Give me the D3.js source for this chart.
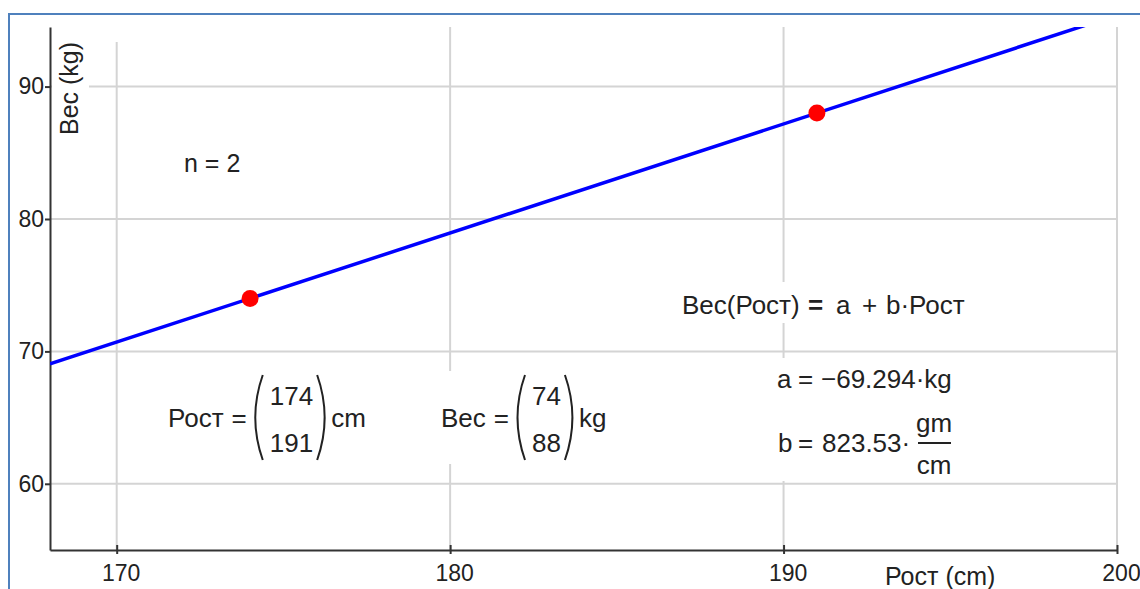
<!DOCTYPE html>
<html>
<head>
<meta charset="utf-8">
<script src="https://d3js.org/d3.v7.min.js"></script>
<style>
  body { margin: 0; background: #fff; }
  svg text { font-family: "Liberation Sans", Arial, sans-serif; fill: #222; }
</style>
</head>
<body>
<script>
'use strict';

// data (Рост in cm, Вес in kg)
let heights = [174, 191];
let weights = [74, 88];
let xTicks = [170, 180, 190, 200];
let yTicks = [60, 70, 80, 90];
let xDomain = [168, 200];
let yDomain = [55, 94.5];

// fitted line Вес(Рост) = a + b·Рост
let fitA = -69.294;     // kg
let fitB = 0.82353;     // kg per cm
let aLabel = '\u221269.294';
let bLabel = '823.53';

let svgContainer = '';
let fontSize = 26;
let plot = {
    left: 50,
    right: 1117,
    top: 27,
    bottom: 550
}

window.onload = function() {

    svgContainer = d3.select('body')
        .append('svg')
        .attr('width', 1140)
        .attr('height', 589);

    makeGraph();
}

function makeGraph() {

    // outer blue frame
    svgContainer.append('rect')
        .attr('x', 9)
        .attr('y', 14)
        .attr('width', 1300)
        .attr('height', 700)
        .attr('fill', 'none')
        .attr('stroke', '#4f81bd')
        .attr('stroke-width', 2);

    let xScale = d3.scaleLinear()
        .domain(xDomain)
        .range([plot.left, plot.right]);

    let yScale = d3.scaleLinear()
        .domain(yDomain)
        .range([plot.bottom, plot.top]);

    drawGrid(xScale, yScale);
    makeNotes();
    makeLabels(svgContainer);
    drawAxes(xScale, yScale);
    plotData(xScale, yScale);
}

function drawGrid(xScale, yScale) {

    let grid = svgContainer.append('g')
        .attr('stroke', '#d4d4d4')
        .attr('stroke-width', 2);

    grid.selectAll('.vgrid')
        .data(xTicks)
        .enter()
        .append('line')
            .attr('x1', (d) => xScale(d))
            .attr('x2', (d) => xScale(d))
            .attr('y1', plot.top)
            .attr('y2', plot.bottom);

    grid.selectAll('.hgrid')
        .data(yTicks)
        .enter()
        .append('line')
            .attr('x1', plot.left)
            .attr('x2', plot.right)
            .attr('y1', (d) => yScale(d))
            .attr('y2', (d) => yScale(d));
}

function drawAxes(xScale, yScale) {

    let yAxis = d3.axisLeft(yScale)
        .tickValues(yTicks)
        .tickSize(5)
        .tickSizeOuter(0)
        .tickPadding(1);

    let gy = svgContainer.append('g')
        .attr('transform', 'translate(' + plot.left + ', 0)')
        .call(yAxis);

    let xAxis = d3.axisBottom(xScale)
        .tickValues(xTicks)
        .tickSizeOuter(0);

    let gx = svgContainer.append('g')
        .attr('transform', 'translate(0, ' + plot.bottom + ')')
        .call(xAxis);

    gx.selectAll('.tick line')
        .attr('y1', -5)
        .attr('y2', 4);
    gx.selectAll('.tick text')
        .attr('y', 31)
        .attr('dy', 0)
        .attr('dx', 4);

    [gx, gy].forEach((g) => {
        g.attr('font-family', null).attr('font-size', null);
        g.selectAll('path, line')
            .attr('stroke', '#333')
            .attr('stroke-width', 2);
        g.selectAll('text')
            .style('font-size', '23px')
            .attr('fill', '#222');
    });
}

function plotData(xScale, yScale) {

    svgContainer.append('clipPath')
        .attr('id', 'plotClip')
        .append('rect')
            .attr('x', plot.left)
            .attr('y', plot.top)
            .attr('width', plot.right - plot.left)
            .attr('height', plot.bottom - plot.top);

    let fit = d3.line()
        .x((d) => xScale(d))
        .y((d) => yScale(fitA + fitB * d));

    svgContainer.append('path')
        .datum(xDomain)
        .attr('clip-path', 'url(#plotClip)')
        .attr('d', fit)
        .attr('fill', 'none')
        .attr('stroke', '#0000ff')
        .attr('stroke-width', 3.5);

    svgContainer.selectAll('.dot')
        .data(heights)
        .enter()
        .append('circle')
            .attr('class', 'dot')
            .attr('cx', (d) => xScale(d))
            .attr('cy', (d, i) => yScale(weights[i]))
            .attr('r', 8.5)
            .attr('fill', '#ff0000');
}

// text region with a white box behind it, like a worksheet region
function region(padX, padTop, padBottom) {
    let g = svgContainer.append('g');
    g.pad = [padX, padTop, padBottom];
    return g;
}

function finishRegion(g) {
    let box = g.node().getBBox();
    g.insert('rect', ':first-child')
        .attr('x', box.x - g.pad[0])
        .attr('y', box.y - g.pad[1])
        .attr('width', box.width + 2 * g.pad[0])
        .attr('height', box.height + g.pad[1] + g.pad[2])
        .attr('fill', '#fff');
}

function addText(g, x, y, str, bold) {
    let t = g.append('text')
        .attr('x', x)
        .attr('y', y)
        .style('font-size', fontSize + 'px')
        .text(str);
    if (bold) t.style('font-weight', 'bold');
    return t;
}

// pieces: [x, text, bold]
function addPieces(g, y, pieces) {
    pieces.forEach((p) => addText(g, p[0], y, p[1], p[2]));
}

function makeNotes() {

    let gn = region(6, 6, 4);
    addText(gn, 184, 172, 'n = ' + heights.length).style('font-size', '25px');
    finishRegion(gn);

    let ge = region(6, 8, 3);
    addPieces(ge, 314, [
        [682, 'Вес(Рост)'],
        [808, '=', true],
        [836, 'a'],
        [862, '+'],
        [886, 'b\u00b7Рост']
    ]);
    finishRegion(ge);

    let gab = region(6, 6, 1);
    addPieces(gab, 388, [
        [777, 'a'],
        [798, '='],
        [821, aLabel + '\u00b7kg']
    ]);
    addPieces(gab, 452, [
        [778, 'b'],
        [798, '='],
        [822, bLabel + '\u00b7']
    ]);
    let fx = 918;
    addText(gab, fx + 16, 432, 'gm').attr('text-anchor', 'middle');
    addText(gab, fx + 16, 474, 'cm').attr('text-anchor', 'middle');
    gab.append('line')
        .attr('x1', fx)
        .attr('x2', fx + 33)
        .attr('y1', 443)
        .attr('y2', 443)
        .attr('stroke', '#222')
        .attr('stroke-width', 2);
    finishRegion(gab);

    drawVector(168, 427, 'Рост', heights, 'cm');
    drawVector(441, 427, 'Вес', weights, 'kg');
}

function drawVector(x, y, name, values, unit) {

    let g = region(6, 4, 4);
    let t = addText(g, x, y, name);
    let eqX = x + t.node().getComputedTextLength() + 8;
    let eq = addText(g, eqX, y, '=');
    let px = eqX + eq.node().getComputedTextLength() + 6;

    let texts = values.map((v, i) => addText(g, 0, y - 22 + i * 47, v).attr('text-anchor', 'middle'));
    let w = d3.max(texts, (s) => s.node().getComputedTextLength());
    let vx = px + 17;
    texts.forEach((s) => s.attr('x', vx + w / 2));

    let top = y - 52;
    let bot = y + 33;
    let mid = (top + bot) / 2;
    let rx = vx + w + 14;

    g.append('path')
        .attr('d', 'M' + (px + 10) + ',' + top + 'Q' + (px - 5) + ',' + mid + ' ' + (px + 10) + ',' + bot)
        .attr('fill', 'none')
        .attr('stroke', '#222')
        .attr('stroke-width', 2);
    g.append('path')
        .attr('d', 'M' + (rx - 10) + ',' + top + 'Q' + (rx + 5) + ',' + mid + ' ' + (rx - 10) + ',' + bot)
        .attr('fill', 'none')
        .attr('stroke', '#222')
        .attr('stroke-width', 2);

    addText(g, rx + 4, y, unit);
    finishRegion(g);
}

function makeLabels(svg) {

    let gl = svg.append('g');
    gl.append('rect')
        .attr('x', 52)
        .attr('y', plot.top)
        .attr('width', 37)
        .attr('height', 113)
        .attr('fill', '#fff');
    gl.append('rect')
        .attr('x', 52)
        .attr('y', plot.top)
        .attr('width', 70)
        .attr('height', 15)
        .attr('fill', '#fff');
    gl.append('text')
        .attr('transform', 'translate(78, 135)rotate(-90)')
        .style('font-size', '25px')
        .text('Вес (kg)');

    svg.append('text')
        .attr('x', 885)
        .attr('y', 585)
        .style('font-size', '25px')
        .text('Рост (cm)');
}
</script>
</body>
</html>
